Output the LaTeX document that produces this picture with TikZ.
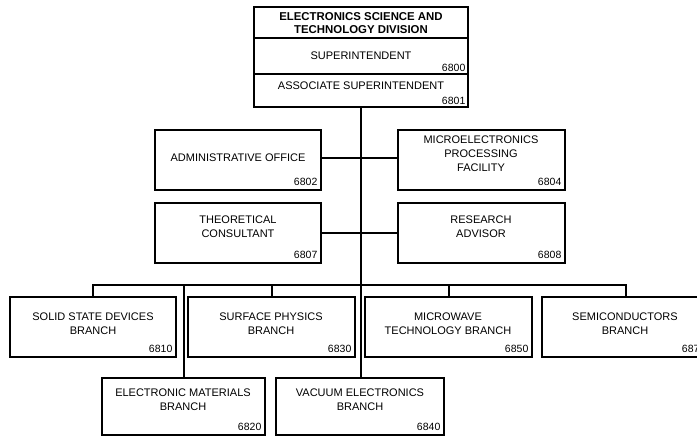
\documentclass[tikz,border=0pt]{standalone}
\usepackage{fontspec}
\setmainfont{Liberation Sans}
\usetikzlibrary{fit}
\begin{document}
\begin{tikzpicture}[x=1pt,y=-1pt,
  box/.style={draw=black,line width=1.1pt,inner sep=0pt,rectangle},
  conn/.style={draw=black,line width=2pt},
  trunk/.style={draw=black,line width=2.6pt},
  txt/.style={font=\fontsize{11}{14}\selectfont,align=center,inner sep=0pt},
  ttl/.style={font=\fontsize{11.4}{13.5}\selectfont\bfseries,align=center,inner sep=0pt},
  num/.style={font=\fontsize{10.5}{12}\selectfont,inner sep=0pt,anchor=base east}]
\useasboundingbox (0,0) rectangle (697,437);
% boxes
\node[box,fit={(254,7) (468,38)}] (div) {};
\node[box,fit={(254,38) (468,74)}] (sup) {};
\node[box,fit={(254,74) (468,107)}] (asup) {};
\node[box,fit={(155,130) (321,190)}] (admin) {};
\node[box,fit={(398,130) (565,190)}] (micro) {};
\node[box,fit={(155,203) (321,263)}] (theo) {};
\node[box,fit={(398,203) (565,263)}] (res) {};
\node[box,fit={(10,297) (176,357)}] (ssd) {};
\node[box,fit={(188,297) (355,357)}] (surf) {};
\node[box,fit={(365,297) (532,357)}] (micw) {};
\node[box,fit={(542,297) (709,357)}] (semi) {};
\node[box,fit={(102,378) (265,435)}] (elmat) {};
\node[box,fit={(276,378) (444,435)}] (vac) {};
% texts
\node[ttl] (div-t) at (361,23) {ELECTRONICS SCIENCE AND\\TECHNOLOGY DIVISION};
\node[txt] (sup-t) at (361,56) {SUPERINTENDENT};
\node[txt] (asup-t) at (361,86) {ASSOCIATE SUPERINTENDENT};
\node[txt] (admin-t) at (238,158) {ADMINISTRATIVE OFFICE};
\node[txt] (micro-t) at (481,154) {MICROELECTRONICS\\PROCESSING\\FACILITY};
\node[txt] (theo-t) at (238,227) {THEORETICAL\\CONSULTANT};
\node[txt] (res-t) at (481,227) {RESEARCH\\ADVISOR};
\node[txt] (ssd-t) at (93,324) {SOLID STATE DEVICES\\BRANCH};
\node[txt] (surf-t) at (271,324) {SURFACE PHYSICS\\BRANCH};
\node[txt] (micw-t) at (448,324) {MICROWAVE\\TECHNOLOGY BRANCH};
\node[txt] (semi-t) at (625,324) {SEMICONDUCTORS\\BRANCH};
\node[txt] (elmat-t) at (183,400) {ELECTRONIC MATERIALS\\BRANCH};
\node[txt] (vac-t) at (360,400) {VACUUM ELECTRONICS\\BRANCH};
% numbers
\node[num] (sup-n) at ([xshift=-3pt,yshift=3pt]sup.south east) {6800};
\node[num] (asup-n) at ([xshift=-3pt,yshift=3pt]asup.south east) {6801};
\node[num] (admin-n) at ([xshift=-4pt,yshift=5pt]admin.south east) {6802};
\node[num] (micro-n) at ([xshift=-4pt,yshift=5pt]micro.south east) {6804};
\node[num] (theo-n) at ([xshift=-4pt,yshift=5pt]theo.south east) {6807};
\node[num] (res-n) at ([xshift=-4pt,yshift=5pt]res.south east) {6808};
\node[num] (ssd-n) at ([xshift=-4pt,yshift=5pt]ssd.south east) {6810};
\node[num] (surf-n) at ([xshift=-4pt,yshift=5pt]surf.south east) {6830};
\node[num] (micw-n) at ([xshift=-4pt,yshift=5pt]micw.south east) {6850};
\node[num] (semi-n) at ([xshift=-4pt,yshift=5pt]semi.south east) {6870};
\node[num] (elmat-n) at ([xshift=-4pt,yshift=5pt]elmat.south east) {6820};
\node[num] (vac-n) at ([xshift=-4pt,yshift=5pt]vac.south east) {6840};
% connectors
\coordinate (bar) at (360,285);
\draw[trunk] (asup.south) -- (asup.south |- vac.north);
\draw[conn] ([yshift=2pt]admin.east) -- ([yshift=2pt]micro.west);
\draw[conn] (theo.east) -- (res.west);
\draw[conn] (ssd.north) -- (ssd.north |- bar) -- (semi.north |- bar) -- (semi.north);
\draw[conn] (surf.north) -- (surf.north |- bar);
\draw[conn] (micw.north) -- (micw.north |- bar);
\draw[conn] (elmat.north) -- (elmat.north |- bar);
\end{tikzpicture}
\end{document}
